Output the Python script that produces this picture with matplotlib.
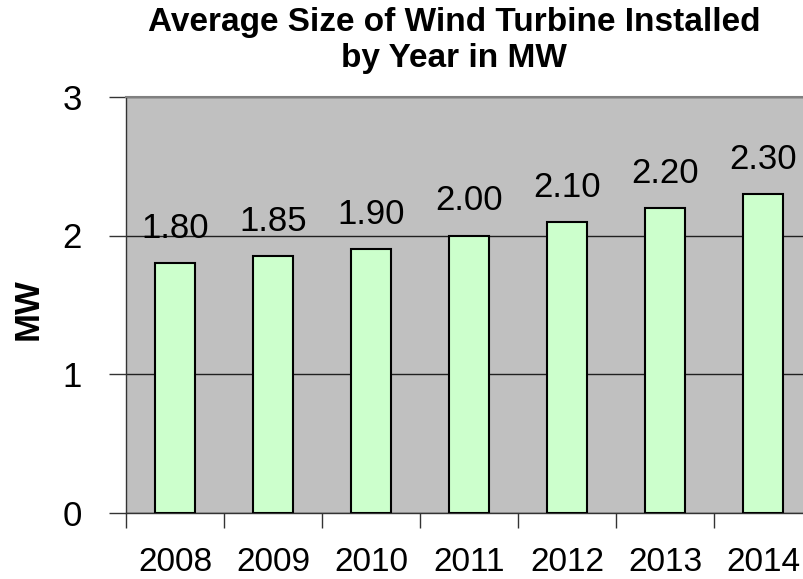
import matplotlib
matplotlib.use("Agg")
import matplotlib.pyplot as plt

# --- data ---
years = ["2008", "2009", "2010", "2011", "2012", "2013", "2014"]
avg_mw = [1.80, 1.85, 1.90, 2.00, 2.10, 2.20, 2.30]
y_ticks = [0, 1, 2, 3]

plt.rcParams["font.family"] = ["Liberation Sans", "DejaVu Sans"]

fig = plt.figure(figsize=(8.04, 5.79), dpi=100)
# plot area runs past the right edge, like the original
ax = fig.add_axes([126 / 804, 66.5 / 579, 686 / 804, 415.5 / 579])
ax.set_facecolor("#c0c0c0")

x = list(range(len(years)))
bars = ax.bar(x, avg_mw, width=0.41, color="#ccffcc", edgecolor="black",
              linewidth=1.5, zorder=3)
ax.bar_label(bars, labels=[f"{v:.2f}" for v in avg_mw], padding=13,
             fontsize=25, zorder=4)

ax.set_xlim(-0.5, len(years) - 0.5)
ax.set_ylim(0, 3)
ax.set_yticks(y_ticks)
ax.set_yticklabels([str(t) for t in y_ticks], fontsize=25)
ax.yaxis.grid(True, color="#202020", linewidth=1, zorder=1)
ax.set_axisbelow(True)

# category ticks between bars, labels at the bar centres
ax.set_xticks([i - 0.5 for i in range(len(years) + 1)])
ax.set_xticklabels([])
ax.set_xticks(x, minor=True)
ax.set_xticklabels(years, minor=True, fontsize=24)
ax.tick_params(axis="x", which="major", length=11, width=1, color="#333333")
ax.tick_params(axis="x", which="minor", length=0, pad=25)
ax.tick_params(axis="y", length=12, width=1, color="#333333", pad=20)

for s in ["left", "bottom"]:
    ax.spines[s].set_color("#333333")
    ax.spines[s].set_linewidth(1)
ax.spines["top"].set_color("#808080")
ax.spines["top"].set_linewidth(1.5)
ax.spines["right"].set_visible(False)

ax.set_ylabel("MW", fontsize=25, fontweight="bold")
ax.yaxis.set_label_coords(-0.118, 0.49)

fig.text(454 / 804, 1 - 22 / 579, "Average Size of Wind Turbine Installed",
         ha="center", va="center", fontsize=24, fontweight="bold")
fig.text(454 / 804, 1 - 58 / 579, "by Year in MW",
         ha="center", va="center", fontsize=24, fontweight="bold")

fig.savefig("out.png", dpi=100)
